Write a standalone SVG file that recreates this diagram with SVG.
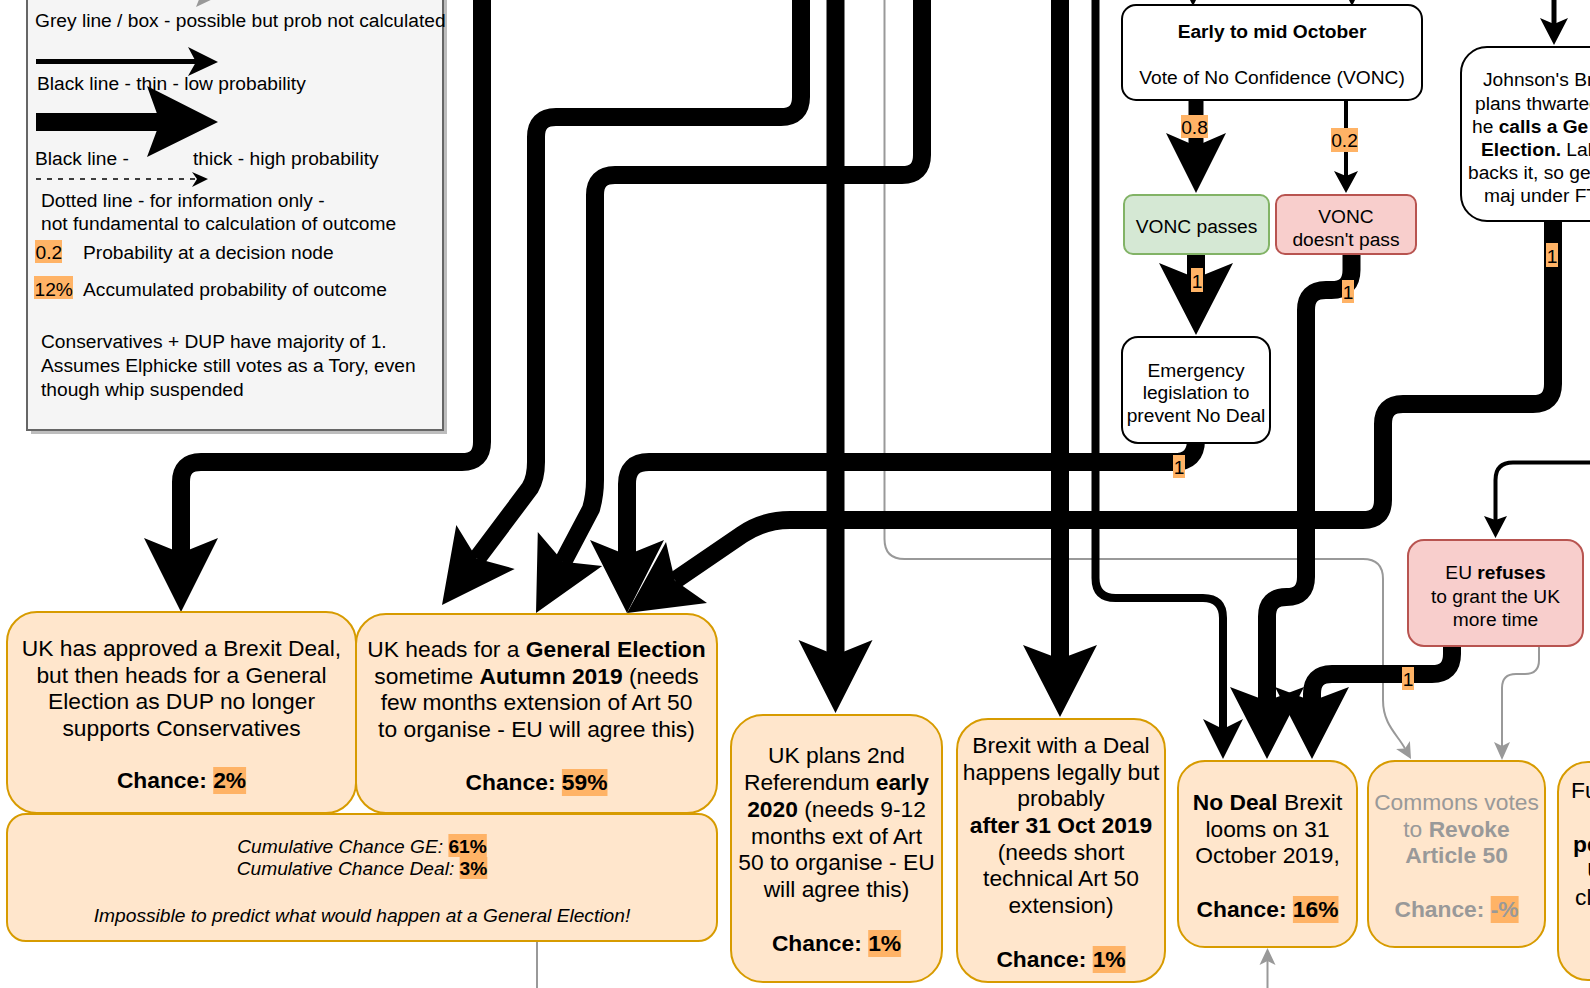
<svg xmlns="http://www.w3.org/2000/svg" width="1590" height="988" viewBox="0 0 1590 988">
<style>
.t{font-family:"Liberation Sans",Arial,Helvetica,sans-serif;fill:#000}
.s19{font-size:19.2px}
.s23{font-size:22.8px}
.b{font-weight:bold}
.i{font-style:italic}
.c{text-anchor:middle}
.g{fill:#999}
.hl{fill:#FFB366}
.out{fill:#ffe6cc;stroke:#d79b00;stroke-width:2}
.wb{fill:#fff;stroke:#000;stroke-width:2}
.grn{fill:#d5e8d4;stroke:#82b366;stroke-width:2}
.red{fill:#f8cecc;stroke:#b85450;stroke-width:2}
.ln{fill:none;stroke:#000}
.th{stroke-width:18}
.gl{fill:none;stroke:#999;stroke-width:2}
.ah{fill:#000}
.gah{fill:#999}
</style>
<rect width="1590" height="988" fill="#fff"/>

<g id="legend">
<rect x="31" y="-20" width="416" height="454" fill="#bdbdbd"/>
<rect x="27" y="-24" width="416" height="454" fill="#f5f5f5" stroke="#666" stroke-width="2"/>
<path d="M35 -3 H198" stroke="#999" stroke-width="4" fill="none"/>
<polygon class="gah" points="217,-3 196,-13 200,-3 196,7"/>
<text class="t s19" x="35" y="27">Grey line / box - possible but prob not calculated</text>
<path d="M36 61.5 H196" stroke="#000" stroke-width="5" fill="none"/>
<polygon class="ah" points="218,62 188,47 196,62 188,76"/>
<text class="t s19" x="37" y="90">Black line - thin - low probability</text>
<path d="M36 122 H162" stroke="#000" stroke-width="18" fill="none"/>
<polygon class="ah" points="218,122 147,86 160,122 147,157"/>
<text class="t s19" x="35" y="165">Black line -</text>
<text class="t s19" x="193" y="165">thick - high probability</text>
<path d="M36 179 H196" stroke="#000" stroke-width="1.5" stroke-dasharray="5 6" fill="none"/>
<polygon class="ah" points="208,179 192,172 197,179 192,187"/>
<text class="t s19" x="41" y="207">Dotted line - for information only -</text>
<text class="t s19" x="41" y="230">not fundamental to calculation of outcome</text>
<rect class="hl" x="35" y="240" width="27" height="23"/>
<text class="t s19" x="35.5" y="259">0.2</text>
<text class="t s19" x="83" y="259">Probability at a decision node</text>
<rect class="hl" x="34" y="276" width="39" height="23"/>
<text class="t s19" x="34.5" y="296">12%</text>
<text class="t s19" x="83" y="296">Accumulated probability of outcome</text>
<text class="t s19" x="41" y="348">Conservatives + DUP have majority of 1.</text>
<text class="t s19" x="41" y="372">Assumes Elphicke still votes as a Tory, even</text>
<text class="t s19" x="41" y="396">though whip suspended</text>
</g>

<g id="connectors">
<path class="gl" d="M884.5 -10 V539 Q884.5 559 904.5 559 H1363 Q1383 559 1383 579 V700 C1383 725 1398 735 1405 748.6"/>
<polygon class="gah" points="1411,759 1396.1,749.1 1405,748.6 1409.9,741.1"/>
<path class="gl" d="M1539 646 V660 Q1539 674 1525 674 H1516 Q1502 674 1502 688 V746"/>
<polygon class="gah" points="1502,760 1494,742 1502,746 1510,742"/>
<path class="gl" d="M1267.5 990 V961"/>
<polygon class="gah" points="1267.5,948 1259.5,965 1267.5,961 1275.5,965"/>
<path class="gl" d="M537 941 V990"/>

<path class="ln th" d="M482 -10 V442 Q482 462 462 462 H201 Q181 462 181 482 V553"/>
<polygon class="ah" points="181,612 144,538 181,553 218,538"/>
<path class="ln th" d="M801 -10 V97 Q801 117 781 117 H556 Q536 117 536 137 V462 Q536 478 530 488 L477 558.6"/>
<polygon class="ah" points="442,605 456.3,525.1 476.8,558.6 514.7,568.9"/>
<path class="ln th" d="M922 -10 V155 Q922 175 902 175 H615 Q595 175 595 195 V480 Q595 495 591 509 L563 562"/>
<polygon class="ah" points="536,613 537.8,531.9 563.2,561.8 602.2,566.1"/>
<path class="ln th" d="M1196 440 Q1196 462 1174 462 H649 Q627 462 627 484 V555"/>
<polygon class="ah" points="627,613 590,540 627,555 664,540"/>
<path class="ln th" d="M1553 221 V384 Q1553 404 1533 404 H1403 Q1383 404 1383 424 V500 Q1383 520 1363 520 H790 Q763.5 520 742 534.6 L675 580.4"/>
<polygon class="ah" points="627,613 666,542 674.9,580.4 707,603"/>
<path class="ln th" d="M835.5 -10 V655"/>
<polygon class="ah" points="835.5,713 798.5,640 835.5,655 872.5,640"/>
<path class="ln th" d="M1060 -10 V659"/>
<polygon class="ah" points="1060,717 1023,645 1060,659 1097,645"/>
<path class="ln" stroke-width="8" d="M1095.5 -10 V578 Q1095.5 598 1115.5 598 H1203 Q1223 598 1223 618 V729"/>
<polygon class="ah" points="1223,759 1203,719 1223,729 1243,719"/>
<path class="ln" stroke-width="15" d="M1196 100 V146"/>
<polygon class="ah" points="1196,193 1166,133 1196,146 1226,133"/>
<path class="ln" stroke-width="4" d="M1346 100 V176"/>
<polygon class="ah" points="1346,193 1334,171 1346,176 1358,171"/>
<path class="ln th" d="M1196 254 V278"/>
<polygon class="ah" points="1196,335 1159,263 1196,278 1233,263"/>
<path class="ln th" d="M1351.5 254 V270 Q1351.5 290 1331.5 290 H1326 Q1306 290 1306 310 V577 Q1306 597 1286.5 597 Q1267 597 1267 616.5 V701"/>
<polygon class="ah" points="1267,759 1230,687 1267,701 1304,687"/>
<path class="ln th" d="M1452 646 V654 Q1452 674 1432 674 H1332 Q1312 674 1312 694 V701"/>
<polygon class="ah" points="1312,759 1275,687 1312,701 1349,687"/>
<path class="ln" stroke-width="5" d="M1554 -10 V24"/>
<polygon class="ah" points="1554,45 1540,18 1554,24 1568,18"/>
<path class="ln" stroke-width="4" d="M1600 462.5 H1513 Q1495.5 462.5 1495.5 480 V520"/>
<polygon class="ah" points="1495.5,538 1484,516 1495.5,520 1507,516"/>
<polygon class="ah" points="1193,6 1180,-20 1193,-14 1206,-20"/>
<polygon class="ah" points="1352,6 1339,-20 1352,-14 1365,-20"/>

<rect class="hl" x="1181" y="115" width="27" height="23"/>
<text class="t s19 c" x="1194.5" y="134">0.8</text>
<rect class="hl" x="1331" y="128" width="27" height="24"/>
<text class="t s19 c" x="1344.5" y="147">0.2</text>
<rect class="hl" x="1191" y="268" width="12" height="24"/>
<text class="t s19 c" x="1197" y="288">1</text>
<rect class="hl" x="1342" y="280" width="12" height="23"/>
<text class="t s19 c" x="1348" y="299">1</text>
<rect class="hl" x="1173" y="455" width="12" height="23"/>
<text class="t s19 c" x="1179" y="474">1</text>
<rect class="hl" x="1546" y="243" width="12" height="24"/>
<text class="t s19 c" x="1552" y="263">1</text>
<rect class="hl" x="1402" y="667" width="12" height="23"/>
<text class="t s19 c" x="1408" y="686">1</text>
</g>

<g id="early-october">
<rect class="wb" x="1122" y="5" width="300" height="95" rx="14"/>
<text class="t s19 c b" x="1272" y="38">Early to mid October</text>
<text class="t s19 c" x="1272" y="84">Vote of No Confidence (VONC)</text>
</g>
<g id="vonc-passes">
<rect class="grn" x="1124" y="195" width="145" height="59" rx="9"/>
<text class="t s19 c" x="1196.5" y="233">VONC passes</text>
</g>
<g id="vonc-fails">
<rect class="red" x="1276" y="195" width="140" height="59" rx="9"/>
<text class="t s19 c" x="1346" y="223">VONC</text>
<text class="t s19 c" x="1346" y="246">doesn't pass</text>
</g>
<g id="emergency">
<rect class="wb" x="1122" y="337" width="148" height="106" rx="16"/>
<text class="t s19 c" x="1196" y="377">Emergency</text>
<text class="t s19 c" x="1196" y="399">legislation to</text>
<text class="t s19 c" x="1196" y="422">prevent No Deal</text>
</g>
<g id="johnson">
<rect class="wb" x="1461" y="47" width="200" height="174" rx="26"/>
<text class="t s19" x="1483" y="86">Johnson's Br</text>
<text class="t s19" x="1475" y="110">plans thwarted</text>
<text class="t s19" x="1472" y="133">he <tspan class="b">calls a Ge</tspan></text>
<text class="t s19" x="1481" y="156"><tspan class="b">Election.</tspan> Lab</text>
<text class="t s19" x="1468" y="179">backs it, so ge</text>
<text class="t s19" x="1484" y="202">maj under FT</text>
</g>
<g id="eu-refuses">
<rect class="red" x="1408" y="540" width="175" height="106" rx="16"/>
<text class="t s19 c" x="1495.5" y="579">EU <tspan class="b">refuses</tspan></text>
<text class="t s19 c" x="1495.5" y="603">to grant the UK</text>
<text class="t s19 c" x="1495.5" y="626">more time</text>
</g>

<g id="deal-then-ge">
<rect class="out" x="7" y="612" width="349" height="201" rx="30"/>
<text class="t s23 c" x="181.5" y="656">UK has approved a Brexit Deal,</text>
<text class="t s23 c" x="181.5" y="683">but then heads for a General</text>
<text class="t s23 c" x="181.5" y="709">Election as DUP no longer</text>
<text class="t s23 c" x="181.5" y="736">supports Conservatives</text>
<rect class="hl" x="213.2" y="767" width="32.9" height="27"/>
<text class="t s23 c b" x="181.5" y="788">Chance: 2%</text>
</g>
<g id="general-election">
<rect class="out" x="356" y="614" width="361" height="199" rx="30"/>
<text class="t s23 c" x="536.5" y="657">UK heads for a <tspan class="b">General Election</tspan></text>
<text class="t s23 c" x="536.5" y="684">sometime <tspan class="b">Autumn 2019</tspan> (needs</text>
<text class="t s23 c" x="536.5" y="710">few months extension of Art 50</text>
<text class="t s23 c" x="536.5" y="737">to organise - EU will agree this)</text>
<rect class="hl" x="561.9" y="769" width="45.6" height="27"/>
<text class="t s23 c b" x="536.5" y="790">Chance: 59%</text>
</g>
<g id="cumulative">
<rect class="out" x="7" y="814" width="710" height="127" rx="19"/>
<rect class="hl" x="448.4" y="834" width="38.4" height="23"/>
<rect class="hl" x="459.6" y="857" width="27.7" height="22"/>
<text class="t s19 c i" x="362" y="853">Cumulative Chance GE: <tspan class="b" font-style="normal">61%</tspan></text>
<text class="t s19 c i" x="362" y="875">Cumulative Chance Deal: <tspan class="b" font-style="normal">3%</tspan></text>
<text class="t s19 c i" x="362" y="922">Impossible to predict what would happen at a General Election!</text>
</g>
<g id="second-referendum">
<rect class="out" x="731" y="715" width="211" height="267" rx="32"/>
<text class="t s23 c" x="836.5" y="763">UK plans 2nd</text>
<text class="t s23 c" x="836.5" y="790">Referendum <tspan class="b">early</tspan></text>
<text class="t s23 c" x="836.5" y="817"><tspan class="b">2020</tspan> (needs 9-12</text>
<text class="t s23 c" x="836.5" y="844">months ext of Art</text>
<text class="t s23 c" x="836.5" y="870">50 to organise - EU</text>
<text class="t s23 c" x="836.5" y="897">will agree this)</text>
<rect class="hl" x="868.2" y="930" width="32.9" height="27"/>
<text class="t s23 c b" x="836.5" y="951">Chance: 1%</text>
</g>
<g id="deal-after-oct">
<rect class="out" x="957" y="719" width="208" height="263" rx="31"/>
<text class="t s23 c" x="1061" y="753">Brexit with a Deal</text>
<text class="t s23 c" x="1061" y="780">happens legally but</text>
<text class="t s23 c" x="1061" y="806">probably</text>
<text class="t s23 c b" x="1061" y="833">after 31 Oct 2019</text>
<text class="t s23 c" x="1061" y="860">(needs short</text>
<text class="t s23 c" x="1061" y="886">technical Art 50</text>
<text class="t s23 c" x="1061" y="913">extension)</text>
<rect class="hl" x="1092.7" y="946" width="32.9" height="27"/>
<text class="t s23 c b" x="1061" y="967">Chance: 1%</text>
</g>
<g id="no-deal">
<rect class="out" x="1178" y="761" width="179" height="186" rx="27"/>
<text class="t s23 c" x="1267.5" y="810"><tspan class="b">No Deal</tspan> Brexit</text>
<text class="t s23 c" x="1267.5" y="837">looms on 31</text>
<text class="t s23 c" x="1267.5" y="863">October 2019,</text>
<rect class="hl" x="1292.9" y="896" width="45.6" height="27"/>
<text class="t s23 c b" x="1267.5" y="917">Chance: 16%</text>
</g>
<g id="revoke">
<rect class="out" x="1368" y="761" width="177" height="186" rx="27"/>
<text class="t s23 c g" x="1456.5" y="810">Commons votes</text>
<text class="t s23 c g" x="1456.5" y="837">to <tspan class="b">Revoke</tspan></text>
<text class="t s23 c g b" x="1456.5" y="863">Article 50</text>
<rect class="hl" x="1490.7" y="896" width="27.9" height="27"/>
<text class="t s23 c g b" x="1456.5" y="917">Chance: -%</text>
</g>
<g id="partial-right">
<rect class="out" x="1558" y="762" width="150" height="218" rx="30"/>
<text class="t s23" x="1571" y="798">Fu</text>
<text class="t s23 b" x="1573" y="852">pe</text>
<text class="t s23" x="1587" y="878">U</text>
<text class="t s23" x="1575" y="905">cl</text>
</g>
</svg>
